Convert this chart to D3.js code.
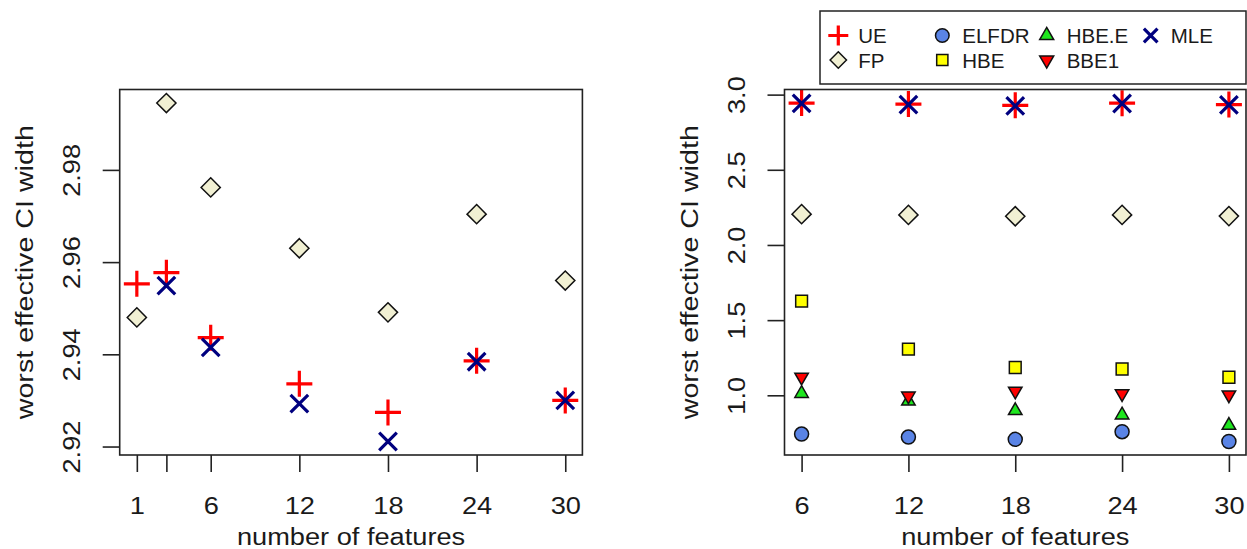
<!DOCTYPE html>
<html>
<head>
<meta charset="utf-8">
<script src="https://cdn.jsdelivr.net/npm/d3@7"></script>
<style>
  html, body { margin: 0; padding: 0; background: #fff; }
  svg { display: block; }
  text { font-family: "Liberation Sans", Arial, Helvetica, sans-serif; fill: #1a1a1a; }
</style>
</head>
<body>
<svg id="chart" width="1247" height="549"></svg>
<script>
// ---- data: left panel (1 to 30 features) ----
const leftFeatures = [1, 3, 6, 12, 18, 24, 30];
const leftUE  = [2.9553, 2.9577, 2.9436, 2.9336, 2.9274, 2.9386, 2.9300];
const leftFP  = [2.9480, 2.9945, 2.9762, 2.9630, 2.9491, 2.9704, 2.9560];
const leftMLE = [null,   2.9549, 2.9415, 2.9293, 2.9211, 2.9384, 2.9300];
const leftYTicks = [2.92, 2.94, 2.96, 2.98];
const leftXTickLabels = ["1", "", "6", "12", "18", "24", "30"];

// ---- data: right panel (6 to 30 features) ----
const rightFeatures = [6, 12, 18, 24, 30];
const rightUE    = [2.944, 2.937, 2.929, 2.943, 2.934];
const rightFP    = [2.205, 2.200, 2.191, 2.200, 2.192];
const rightELFDR = [0.742, 0.722, 0.707, 0.758, 0.693];
const rightHBE   = [1.627, 1.307, 1.185, 1.175, 1.120];
const rightHBEE  = [1.012, 0.961, 0.898, 0.869, 0.800];
const rightBBE1  = [1.121, 0.996, 1.028, 1.011, 1.003];
const rightMLE   = [2.942, 2.933, 2.925, 2.941, 2.932];
const rightYTicks = [1.0, 1.5, 2.0, 2.5, 3.0];
const rightXTickLabels = ["6", "12", "18", "24", "30"];

const xTitle = "number of features";
const yTitle = "worst effective CI width";

// ---- symbol shapes (R-style plotting characters) ----
const shapes = {
  plus:    h => `M${-h},0H${h}M0,${-h}V${h}`,
  cross:   h => `M${-h},${-h}L${h},${h}M${-h},${h}L${h},${-h}`,
  diamond: h => `M0,${-h}L${h},0L0,${h}L${-h},0Z`,
  square:  h => `M${-h},${-h}H${h}V${h}H${-h}Z`,
  circle:  r => `M${r},0A${r},${r} 0 1,1 ${-r},0A${r},${r} 0 1,1 ${r},0Z`,
  triUp:   s => `M0,${-1.555 * s}L${1.347 * s},${0.778 * s}L${-1.347 * s},${0.778 * s}Z`,
  triDown: s => `M0,${1.555 * s}L${1.347 * s},${-0.778 * s}L${-1.347 * s},${-0.778 * s}Z`
};

// style for each method
const styles = {
  "UE":    { shape: "plus",    size: 13,  lsize: 10,  fill: "none",    stroke: "#ff0000", sw: 3.2 },
  "FP":    { shape: "diamond", size: 9.6, lsize: 8.2, fill: "#f1f0d3", stroke: "#111",    sw: 1.5 },
  "ELFDR": { shape: "circle",  size: 7,   lsize: 6.8, fill: "#5a84e6", stroke: "#111",    sw: 1.5 },
  "HBE":   { shape: "square",  size: 5.9, lsize: 5.6, fill: "#ffff00", stroke: "#111",    sw: 1.5 },
  "HBE.E": { shape: "triUp",   size: 5,   lsize: 5.2, fill: "#1ee61e", stroke: "#111",    sw: 1.5 },
  "BBE1":  { shape: "triDown", size: 5,   lsize: 5.2, fill: "#ff0000", stroke: "#111",    sw: 1.5 },
  "MLE":   { shape: "cross",   size: 8.8, lsize: 6.8, fill: "none",    stroke: "#00007f", sw: 3.2 }
};

const svg = d3.select("#chart");
const FONT = 24.5;        // axis text size
const STRETCH = 1.11;     // horizontal widening of axis text glyphs
const TICK = 17;

// R-style range: data extent widened by 4% on each side
function padExtent(values) {
  const [lo, hi] = d3.extent(values.filter(v => v != null));
  const p = (hi - lo) * 0.04;
  return [lo - p, hi + p];
}

function styleAxis(sel) {
  sel.select(".domain").remove();
  sel.selectAll(".tick line").attr("stroke", "#222").attr("stroke-width", 1.6);
}

function drawPanel(cfg) {
  const x = d3.scaleLinear().domain(padExtent(cfg.features)).range([cfg.left, cfg.right]);
  const y = d3.scaleLinear()
    .domain(padExtent(cfg.series.flatMap(s => s.values)))
    .range([cfg.bottom, cfg.top]);

  const g = svg.append("g");

  // points, in series order so later series sit on top
  cfg.series.forEach(s => {
    const st = styles[s.name];
    const pts = cfg.features.map((f, i) => ({ f, v: s.values[i] })).filter(d => d.v != null);
    g.selectAll(null).data(pts).enter().append("path")
      .attr("transform", d => `translate(${x(d.f)},${y(d.v)})`)
      .attr("d", shapes[st.shape](st.size))
      .attr("fill", st.fill)
      .attr("stroke", st.stroke)
      .attr("stroke-width", st.sw)
      .attr("stroke-linejoin", "miter");
  });

  // plot box
  g.append("rect")
    .attr("x", cfg.left).attr("y", cfg.top)
    .attr("width", cfg.right - cfg.left).attr("height", cfg.bottom - cfg.top)
    .attr("fill", "none").attr("stroke", "#222").attr("stroke-width", 1.6);

  // x axis
  const xAxis = d3.axisBottom(x).tickValues(cfg.features)
    .tickSizeInner(TICK).tickSizeOuter(0).tickFormat((d, i) => cfg.xLabels[i]);
  const gx = g.append("g").attr("transform", `translate(0,${cfg.bottom})`).call(xAxis);
  styleAxis(gx);
  gx.selectAll(".tick text")
    .attr("y", 0).attr("dy", null)
    .attr("font-size", FONT).attr("fill", "#1a1a1a")
    .attr("text-anchor", "middle")
    .attr("transform", `translate(0,${59}) scale(${STRETCH},1)`);

  // y axis, labels parallel to the axis
  const yAxis = d3.axisLeft(y).tickValues(cfg.yTicks)
    .tickSizeInner(TICK).tickSizeOuter(0).tickFormat(cfg.yFormat);
  const gy = g.append("g").attr("transform", `translate(${cfg.left},0)`).call(yAxis);
  styleAxis(gy);
  gy.selectAll(".tick text")
    .attr("x", 0).attr("dy", null)
    .attr("font-size", FONT).attr("fill", "#1a1a1a")
    .attr("text-anchor", "middle")
    .attr("transform", `translate(-40,0) rotate(-90) scale(${STRETCH},1)`);

  // axis titles
  g.append("text")
    .attr("transform", `translate(${(cfg.left + cfg.right) / 2},545) scale(${STRETCH},1)`)
    .attr("text-anchor", "middle").attr("font-size", FONT)
    .text(xTitle);
  g.append("text")
    .attr("transform", `translate(${cfg.left - 86.5},${(cfg.top + cfg.bottom) / 2}) rotate(-90) scale(1.17,1)`)
    .attr("text-anchor", "middle").attr("font-size", FONT)
    .text(yTitle);
}

drawPanel({
  left: 119.7, right: 582.4, top: 89.5, bottom: 455,
  features: leftFeatures, xLabels: leftXTickLabels,
  yTicks: leftYTicks, yFormat: d3.format(".2f"),
  series: [
    { name: "UE", values: leftUE },
    { name: "FP", values: leftFP },
    { name: "MLE", values: leftMLE }
  ]
});

drawPanel({
  left: 784.5, right: 1246, top: 89.5, bottom: 455,
  features: rightFeatures, xLabels: rightXTickLabels,
  yTicks: rightYTicks, yFormat: d3.format(".1f"),
  series: [
    { name: "UE", values: rightUE },
    { name: "FP", values: rightFP },
    { name: "ELFDR", values: rightELFDR },
    { name: "HBE", values: rightHBE },
    { name: "HBE.E", values: rightHBEE },
    { name: "BBE1", values: rightBBE1 },
    { name: "MLE", values: rightMLE }
  ]
});

// ---- legend: 4 columns, filled column by column ----
const legendNames = ["UE", "FP", "ELFDR", "HBE", "HBE.E", "BBE1", "MLE"];
const legend = svg.append("g");
legend.append("rect")
  .attr("x", 820).attr("y", 11).attr("width", 426).attr("height", 73)
  .attr("fill", "#fff").attr("stroke", "#222").attr("stroke-width", 1.5);
const colX = [838.3, 942.3, 1046.7, 1150.7];
const rowY = [35.5, 60];
legendNames.forEach((name, i) => {
  const st = styles[name];
  const cx = colX[Math.floor(i / 2)], cy = rowY[i % 2];
  legend.append("path")
    .attr("transform", `translate(${cx},${cy})`)
    .attr("d", shapes[st.shape](st.lsize))
    .attr("fill", st.fill).attr("stroke", st.stroke).attr("stroke-width", st.sw);
  legend.append("text")
    .attr("x", cx + 20).attr("y", cy + 7.6)
    .attr("font-size", 20.5)
    .text(name);
});
</script>
</body>
</html>
